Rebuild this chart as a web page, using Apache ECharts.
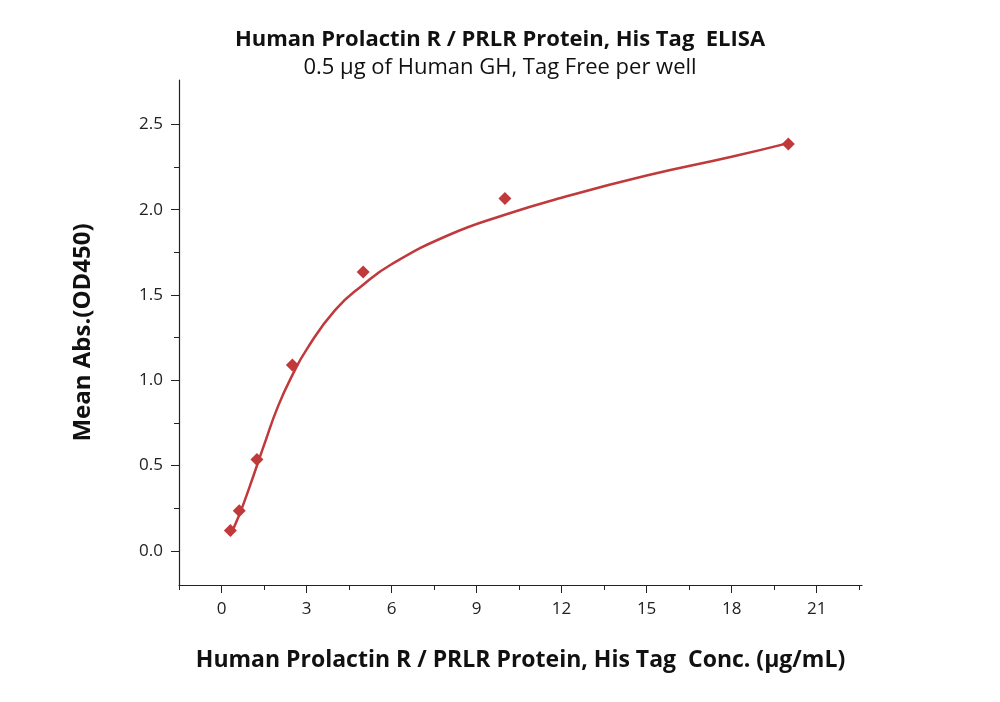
<!DOCTYPE html>
<html>
<head>
<meta charset="utf-8">
<title>PRLR ELISA</title>
<script src="https://cdn.jsdelivr.net/npm/echarts@6/dist/echarts.min.js"></script>
<style>html,body{margin:0;background:#fff}#main{width:1000px;height:702px}</style>
</head>
<body>
<div id="main"></div>
<script>
// measured points
var conc = [0.3125, 0.625, 1.25, 2.5, 5, 10, 20];
var absorb = [0.12, 0.235, 0.535, 1.09, 1.635, 2.065, 2.385];
// fitted curve
var curveX = [0.3, 0.6, 1, 1.5, 2, 2.5, 3, 4, 5, 6, 8, 10, 12, 15, 18, 20];
var curveY = [0.09, 0.2, 0.38, 0.62, 0.85, 1.03, 1.18, 1.41, 1.56, 1.68, 1.85, 1.97, 2.07, 2.2, 2.31, 2.39];
var xTicks = [0, 3, 6, 9, 12, 15, 18, 21];
var xMinor = [-1.5, 1.5, 4.5, 7.5, 10.5, 13.5, 16.5, 19.5, 22.5];
var yTicks = [0, 0.5, 1.0, 1.5, 2.0, 2.5];
var yMinor = [0.25, 0.75, 1.25, 1.75, 2.25];

var font = '"Open Sans", "Noto Sans CJK SC", sans-serif';
var chart = echarts.init(document.getElementById('main'));
var xBase = {type: 'value', min: -1.5, max: 22.6, splitLine: {show: false}};
var yBase = {type: 'value', min: -0.2, max: 2.76, splitLine: {show: false}};
chart.setOption({
  animation: false,
  title: {
    left: 'center', top: 24, itemGap: 6,
    text: 'Human Prolactin R / PRLR Protein, His Tag  ELISA',
    subtext: '0.5 μg of Human GH, Tag Free per well',
    textStyle: {fontFamily: font, fontSize: 22, fontWeight: 'bold', color: '#111'},
    subtextStyle: {fontFamily: font, fontSize: 22, color: '#111'}
  },
  grid: {left: 179, right: 138, top: 80, bottom: 117},
  xAxis: [
    Object.assign({}, xBase, {
      name: 'Human Prolactin R / PRLR Protein, His Tag  Conc. (μg/mL)',
      nameLocation: 'middle', nameGap: 64,
      nameTextStyle: {fontFamily: font, fontSize: 23, fontWeight: 'bold', color: '#111'},
      axisLine: {onZero: false, lineStyle: {color: '#222', width: 1.2}},
      axisTick: {inside: false, length: 8, customValues: xTicks, lineStyle: {color: '#222'}},
      axisLabel: {customValues: xTicks, margin: 16, fontFamily: font, fontSize: 17, color: '#222'}
    }),
    Object.assign({}, xBase, {
      position: 'bottom', axisLine: {show: false, onZero: false},
      axisTick: {length: 5, customValues: xMinor, lineStyle: {color: '#222'}},
      axisLabel: {show: false}
    })
  ],
  yAxis: [
    Object.assign({}, yBase, {
      name: 'Mean Abs.(OD450)', nameLocation: 'middle', nameGap: 84,
      nameTextStyle: {fontFamily: font, fontSize: 24, fontWeight: 'bold', color: '#111'},
      axisLine: {show: true, onZero: false, lineStyle: {color: '#222', width: 1.2}},
      axisTick: {show: true, length: 8, customValues: yTicks, lineStyle: {color: '#222'}},
      axisLabel: {customValues: yTicks, margin: 16, fontFamily: font, fontSize: 17, color: '#222',
        formatter: function (v) { return v.toFixed(1); }}
    }),
    Object.assign({}, yBase, {
      position: 'left', axisLine: {show: false, onZero: false},
      axisTick: {show: true, length: 5, customValues: yMinor, lineStyle: {color: '#222'}},
      axisLabel: {show: false}
    })
  ],
  series: [
    {
      type: 'line', smooth: true, symbol: 'none',
      lineStyle: {color: '#c0393b', width: 2.5},
      data: curveX.map(function (x, i) { return [x, curveY[i]]; })
    },
    {
      type: 'scatter', symbol: 'diamond', symbolSize: 13,
      itemStyle: {color: '#c0393b', opacity: 1},
      data: conc.map(function (x, i) { return [x, absorb[i]]; })
    }
  ]
});
</script>
</body>
</html>
